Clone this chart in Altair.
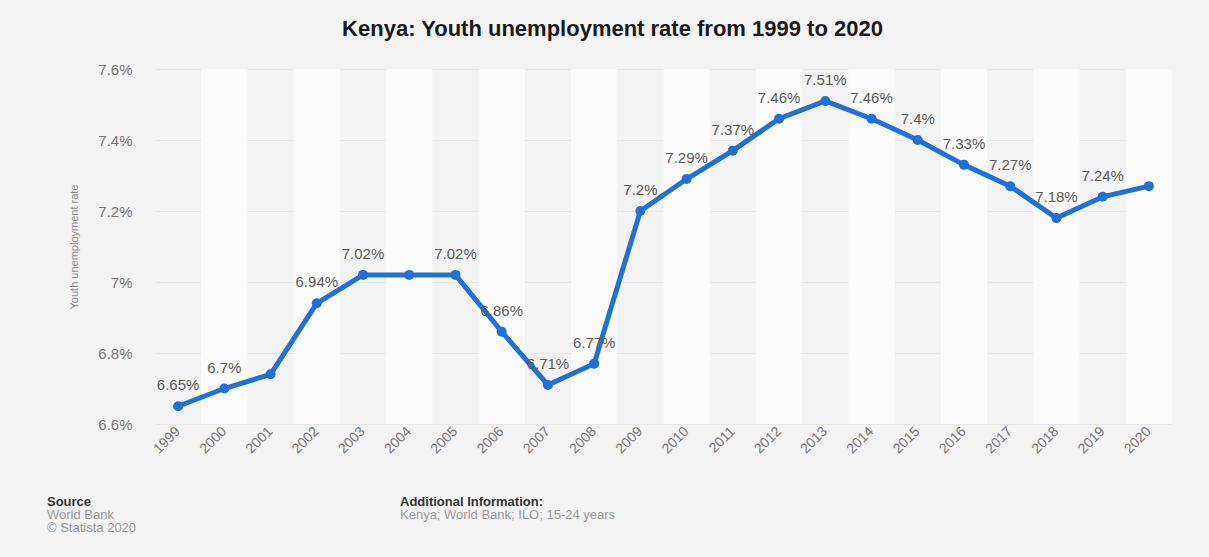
import altair as alt
import pandas as pd

years = [str(y) for y in range(1999, 2021)]
rates = [6.65, 6.70, 6.74, 6.94, 7.02, 7.02, 7.02, 6.86, 6.71, 6.77, 7.20,
         7.29, 7.37, 7.46, 7.51, 7.46, 7.40, 7.33, 7.27, 7.18, 7.24, 7.27]
labels = ["6.65%", "6.7%", "", "6.94%", "7.02%", "", "7.02%", "6.86%", "6.71%", "6.77%", "7.2%",
          "7.29%", "7.37%", "7.46%", "7.51%", "7.46%", "7.4%", "7.33%", "7.27%", "7.18%", "7.24%", ""]
y_ticks = [6.6, 6.8, 7.0, 7.2, 7.4, 7.6]

df = pd.DataFrame({"year": years, "rate": rates, "label": labels,
                   "band": [i % 2 for i in range(len(years))]})

foot_heads = ["Source", "Additional Information:"]
foot_bodies = ["World Bank", "\u00a9 Statista 2020", "Kenya; World Bank; ILO; 15-24 years"]

heads = pd.DataFrame({"text": foot_heads, "px": [-108, 245], "py": [427, 427]})
bodies = pd.DataFrame({"text": foot_bodies, "px": [-108, -108, 245], "py": [440, 453, 440]})

BLUE = "#2170d6"

x_enc = alt.X("year:N", sort=years, title=None,
              scale=alt.Scale(paddingInner=0, paddingOuter=0),
              axis=alt.Axis(labelAngle=315, labelAlign="right", labelBaseline="middle",
                            labelPadding=5, labelFontSize=14, labelColor="#777777",
                            labelFont="Liberation Sans", domain=False, ticks=False, grid=False))
y_scale = alt.Scale(domain=[6.6, 7.6], nice=False, zero=False)

bands = alt.Chart(df).transform_filter("datum.band == 1").mark_rect(color="#fafafa").encode(
    x=alt.X("year:N", sort=years, scale=alt.Scale(paddingInner=0, paddingOuter=0))
)

line = alt.Chart(df).mark_line(color=BLUE, strokeWidth=5, point=alt.OverlayMarkDef(color=BLUE, size=100, filled=True, opacity=1)).encode(
    x=x_enc,
    y=alt.Y("rate:Q", scale=y_scale, title="Youth unemployment rate",
            axis=alt.Axis(values=y_ticks, labelExpr="format(datum.value, '.1~f') + '%'",
                          labelFontSize=15, labelColor="#777777", labelFont="Liberation Sans",
                          labelPadding=23, titleFontSize=11, titleColor="#8a8a8a",
                          titleFont="Liberation Sans", titleFontWeight="normal", titlePadding=18,
                          domain=False, ticks=False, grid=True, gridColor="#e6e6e6", gridWidth=1)),
)

text = alt.Chart(df).mark_text(dy=-21, fontSize=15, color="#5a5a5a", font="Liberation Sans").encode(
    x=alt.X("year:N", sort=years),
    y=alt.Y("rate:Q", scale=y_scale),
    text="label:N",
)

foot_head = alt.Chart(heads).mark_text(align="left", baseline="top", fontSize=13, fontWeight="bold",
                                       color="#333333", font="Liberation Sans").encode(
    x=alt.X("px:Q", scale=None), y=alt.Y("py:Q", scale=None), text="text:N")
foot_body = alt.Chart(bodies).mark_text(align="left", baseline="top", fontSize=13,
                                        color="#999999", font="Liberation Sans").encode(
    x=alt.X("px:Q", scale=None), y=alt.Y("py:Q", scale=None), text="text:N")

chart = alt.layer(bands, line, text, foot_head, foot_body).properties(
    width=1017, height=355,
    background="#f3f3f3",
    padding={"left": 155, "top": 69, "right": 37, "bottom": 133},
    autosize=alt.AutoSizeParams(type="none"),
    title=alt.TitleParams("Kenya: Youth unemployment rate from 1999 to 2020",
                          font="Liberation Sans", fontSize=22, fontWeight="bold",
                          color="#1a1a1a", anchor="middle", dx=-51, offset=21),
).configure_view(stroke=None, fill="#f3f3f3")

chart.save("out.html", embed_options={"renderer": "svg", "actions": False})
